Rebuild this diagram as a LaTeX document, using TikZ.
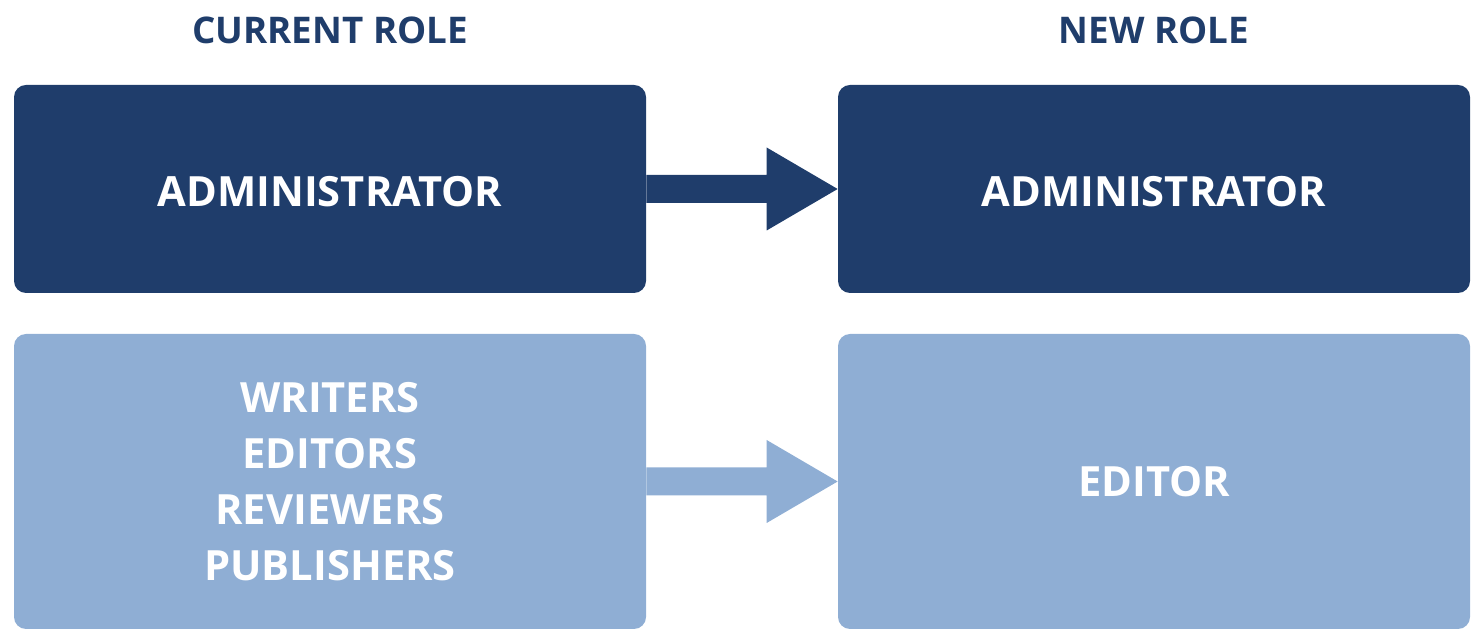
\documentclass[tikz,border=0pt]{standalone}
\usepackage{fontspec}
\setmainfont{Open Sans}
\usepackage{tikz}
\usetikzlibrary{positioning}

\definecolor{darkrole}{RGB}{31,61,107}
\definecolor{lightrole}{RGB}{143,174,212}

\begin{document}
\begin{tikzpicture}[
    rolebox/.style={rounded corners=0.24cm, minimum width=12.64cm, inner sep=0pt,
        text=white, align=center, font=\fontsize{23.7}{32}\selectfont\bfseries},
    header/.style={text=darkrole, font=\fontsize{20.9}{25}\selectfont\bfseries}
  ]
    % page
    \useasboundingbox (0, 0) rectangle (29.64, -12.8);

    % Headers
    \node[header] (curhead) at (6.6, -0.6) {CURRENT ROLE};
    \node[header] (newhead) at (23.08, -0.6) {NEW ROLE};

    % Boxes
    \node[rolebox, fill=darkrole, minimum height=4.16cm, text height=0.72cm] (cur1) at (6.6, -3.78) {ADMINISTRATOR};
    \node[rolebox, fill=darkrole, minimum height=4.16cm, text height=0.72cm] (new1) at (23.08, -3.78) {ADMINISTRATOR};
    \node[rolebox, fill=lightrole, minimum height=5.9cm] (cur2) at (6.6, -9.63) {WRITERS\\EDITORS\\REVIEWERS\\PUBLISHERS};
    \node[rolebox, fill=lightrole, minimum height=5.9cm] (new2) at (23.08, -9.63) {EDITOR};

    % Block arrows
    \foreach \a/\b/\c in {cur1/new1/darkrole, cur2/new2/lightrole} {
        \fill[\c] ([yshift=0.28cm]\a.east) -- ([xshift=-1.42cm, yshift=0.28cm]\b.west)
            -- ([xshift=-1.42cm, yshift=0.83cm]\b.west) -- (\b.west)
            -- ([xshift=-1.42cm, yshift=-0.83cm]\b.west) -- ([xshift=-1.42cm, yshift=-0.28cm]\b.west)
            -- ([yshift=-0.28cm]\a.east) -- cycle;
    }
\end{tikzpicture}
\end{document}
